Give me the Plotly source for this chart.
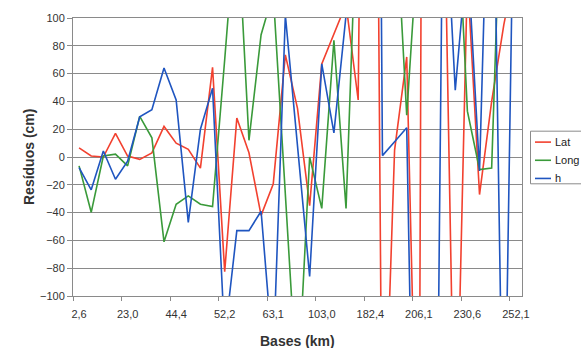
import plotly.graph_objects as go

# Category labels shown on the axis (every 4th base)
tick_labels = ["2,6", "23,0", "44,4", "52,2", "63,1", "103,0", "182,4", "206,1", "230,6", "252,1"]
n_points = 37
x_idx = list(range(n_points))

lat = [6.6, 0.7, 0.0, 17, 0.7, -1.7, 3, 22, 10, 5.5, -8, 64.5, -82.6, 28, 3, -42, -19.5,
       73.5, 35, -35, 67, 89, 110, 41, 900, -257, 5, 72, -300, 2000, 236, -248, 130, -27,
       40, 95, 140]
long_ = [-6.4, -39.8, 0.7, 2, -6.4, 29.3, 13.8, -61, -34, -28, -34, -35.7, 70, 180, 12, 88,
         118, -27, -172, 0, -37, 84, -37, 210, 300, 300, 193, 30, 162, 300, 300, 213, 33, -9,
         -8, 259, 300]
h = [-7.6, -23.6, 4.3, -16, -3, 29, 34, 64, 41, -47, 20, 49.5, -130, -53, -53, -39, -146,
     102, 8, -86, 67, 17.4, 102, 250, 1190, 1, 11, 21, -450, -663, 216, 48, 148, -10, 300,
     -255, 300]

series = [("Lat", lat, "#f2412f"), ("Long", long_, "#3a9a3a"), ("h", h, "#1f55c0")]

fig = go.Figure()
for name, vals, col in series:
    fig.add_trace(go.Scatter(x=x_idx, y=vals, mode="lines", name=name,
                             line=dict(color=col, width=1.6), showlegend=False))

grid = "#8a8a8a"
fig.update_layout(
    width=581, height=348,
    margin=dict(l=73, r=59, t=16, b=52),
    paper_bgcolor="white", plot_bgcolor="white",
    font=dict(family="Liberation Sans, Arial, sans-serif", size=11, color="#333333"),
)
fig.update_xaxes(
    range=[-0.5, n_points - 0.5],
    tickmode="array", tickvals=list(range(0, n_points, 4)), ticktext=tick_labels,
    ticks="", showgrid=False, zeroline=False,
    showline=True, linecolor=grid, linewidth=1, mirror=True,
    ticklabelstandoff=8,
    minor=dict(tickmode="array", tickvals=[i - 0.5 for i in range(0, n_points, 4)],
               ticks="outside", ticklen=4, tickcolor=grid, showgrid=False),
)
fig.update_yaxes(
    range=[-100, 100], dtick=20, tick0=0,
    ticks="outside", ticklen=5, tickcolor=grid,
    showgrid=True, gridcolor=grid, gridwidth=1,
    zeroline=True, zerolinecolor=grid, zerolinewidth=1,
    showline=True, linecolor=grid, linewidth=1, mirror=True,
)

W = 581 - 73 - 59
H = 348 - 16 - 52
def px(xp):
    return (xp - 73) / W
def py(yp):
    return (348 - 52 - yp) / H

fig.add_annotation(text="<b>Resíduos (cm)</b>", x=px(19), y=0.5, xref="paper", yref="paper",
                   textangle=-90, showarrow=False, font=dict(size=14, color="#333333"))
fig.add_annotation(text="<b>Bases (km)</b>", x=0.5, y=py(341), xref="paper", yref="paper",
                   yanchor="middle", showarrow=False, font=dict(size=14, color="#333333"))

# legend box
fig.add_shape(type="rect", xref="paper", yref="paper", x0=px(530.5), x1=px(600), y0=py(130), y1=py(183),
              line=dict(color="#8a8a8a", width=1), fillcolor="white")
for k, (name, vals, col) in enumerate(series):
    yy = 141 + k * 18.3
    fig.add_shape(type="line", xref="paper", yref="paper", x0=px(535), x1=px(551), y0=py(yy), y1=py(yy),
                  line=dict(color=col, width=1.6))
    fig.add_annotation(text=name, x=px(553), y=py(yy), xref="paper", yref="paper", xanchor="left",
                       showarrow=False, font=dict(size=11, color="#222222"))

fig.write_html("out.html")
